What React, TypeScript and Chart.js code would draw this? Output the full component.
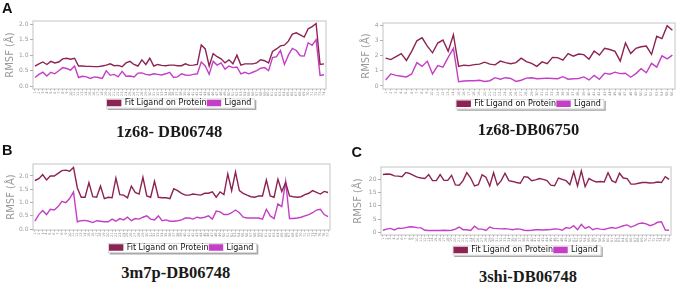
import React, { useEffect, useRef } from 'react';
import { Chart, registerables } from 'chart.js';

Chart.register(...registerables);

const DARK = '#8c2353';
const MAGENTA = '#c43fc6';
const SANS = 'DejaVu Sans';

const SERIES_FIT = 'Fit Ligand on Protein';
const SERIES_LIG = 'Ligand';
const Y_TITLE = 'RMSF (Å)';

const range = (n: number) => Array.from({ length: n }, (_, i) => String(i + 1));

// ---------- Panel A : 1z68- DB06748 ----------
const fitA = [
  0.65, 0.72, 0.78, 0.7, 0.8, 0.75, 0.78, 0.88, 0.9, 0.87,
  0.9, 0.65, 0.65, 0.64, 0.64, 0.63, 0.63, 0.65, 0.68, 0.72,
  0.66, 0.67, 0.63, 0.75, 0.8, 0.7, 0.65, 0.85, 0.7, 0.9,
  0.65, 0.7, 0.67, 0.66, 0.68, 0.68, 0.66, 0.66, 0.72, 0.67,
  0.68, 0.7, 1.33, 1.2, 0.65, 1.05, 0.95, 0.88, 0.75, 0.85,
  0.72, 1.0, 0.68, 0.72, 0.72, 0.72, 0.75, 0.85, 0.82, 0.75,
  1.12, 1.2, 1.3, 1.32, 1.45, 1.68, 1.72, 1.65, 1.58, 1.85,
  1.92, 2.02, 0.7, 0.72,
];
const ligA = [
  0.28, 0.38, 0.45, 0.33, 0.45, 0.4, 0.5, 0.6, 0.57, 0.52,
  0.65, 0.28, 0.32, 0.3, 0.25, 0.3, 0.28, 0.25, 0.5, 0.35,
  0.38, 0.3, 0.48, 0.32, 0.33, 0.3, 0.42, 0.43, 0.38, 0.36,
  0.4, 0.38, 0.36, 0.4, 0.45, 0.28, 0.3, 0.4, 0.36, 0.35,
  0.38, 0.4, 0.78, 0.65, 0.38, 0.8, 0.68, 0.75, 0.55, 0.65,
  0.6, 0.62, 0.4, 0.45, 0.4, 0.45, 0.5, 0.58, 0.6, 0.5,
  0.92, 0.95, 1.15, 0.7, 1.0, 1.22, 1.15, 0.98, 0.97, 1.4,
  1.32, 1.5, 0.35, 0.37,
];
const labelsA = range(fitA.length);
const yTicksA = [0, 0.5, 1.0, 1.5, 2.0];

// ---------- Panel : 1z68-DB06750 ----------
const fitD = [
  1.85, 1.75, 1.95, 2.15, 1.7, 2.3, 3.0, 3.2, 2.65, 2.2,
  2.85, 3.05, 2.3, 3.4, 1.3, 1.38, 1.35, 1.42, 1.45, 1.58,
  1.45, 1.4, 1.65, 1.55, 1.48, 1.55, 1.85, 1.62, 1.5, 1.3,
  1.6, 1.48, 1.9, 1.88, 1.72, 2.15, 1.98, 2.12, 2.08, 1.78,
  2.32, 2.05, 2.5, 2.42, 2.3, 1.65, 2.85, 2.15, 2.5, 2.6,
  2.65, 2.1, 3.3, 3.15, 4.0, 3.7,
];
const ligD = [
  0.4, 0.8, 0.7, 0.65, 0.6, 0.8, 1.55, 1.3, 1.65, 0.8,
  1.35, 1.25, 1.9, 2.5, 0.28, 0.33, 0.35, 0.35, 0.38, 0.3,
  0.35, 0.55, 0.45, 0.55, 0.5, 0.3, 0.38, 0.52, 0.55, 0.48,
  0.5, 0.52, 0.5, 0.48, 0.62, 0.45, 0.48, 0.5, 0.6, 0.4,
  0.7, 0.45, 0.85, 0.78, 0.92, 0.82, 0.85, 0.58, 0.82, 1.15,
  0.88, 1.5, 1.25, 2.0, 1.8, 2.05,
];
const labelsD = range(fitD.length);
const yTicksD = [0, 1, 2, 3, 4];

// ---------- Panel B : 3m7p-DB06748 ----------
const fitB = [
  1.83, 1.9, 2.05, 1.85, 2.0, 2.0, 2.1, 2.2, 2.22, 2.18,
  2.32, 1.55, 1.2, 1.2, 1.75, 1.22, 1.2, 1.62, 1.15, 1.2,
  1.18, 1.92, 1.3, 1.28, 1.18, 1.62, 1.38, 1.32, 1.95, 1.25,
  1.2, 1.8, 1.2, 1.18, 1.18, 1.15, 1.52, 1.45, 1.35, 1.28,
  1.28, 1.32, 1.3, 1.28, 1.35, 1.35, 1.4, 1.2, 1.4, 1.3,
  2.08, 1.45, 2.15, 1.45, 1.35, 1.28, 1.22, 1.2, 1.25, 1.25,
  1.85, 1.25, 1.2, 1.88, 1.42, 1.75, 1.25, 1.22, 1.2, 1.22,
  1.3, 1.35, 1.45, 1.38, 1.32, 1.42, 1.38,
];
const ligB = [
  0.3, 0.55, 0.7, 0.55, 0.75, 0.72, 0.85, 1.05, 1.0, 1.15,
  1.4, 0.28, 0.32, 0.33, 0.3, 0.25, 0.32, 0.3, 0.28, 0.28,
  0.38, 0.3, 0.4, 0.35, 0.45, 0.32, 0.4, 0.38, 0.45, 0.5,
  0.38, 0.35, 0.5, 0.32, 0.35, 0.3, 0.3, 0.32, 0.35, 0.42,
  0.42, 0.38, 0.45, 0.42, 0.45, 0.5, 0.38, 0.68, 0.65, 0.55,
  0.55, 0.62, 0.72, 0.62, 0.45, 0.42, 0.42, 0.42, 0.42, 0.38,
  0.75, 0.5, 0.4, 0.95, 0.85, 1.8, 0.4, 0.4, 0.42, 0.45,
  0.5, 0.55, 0.62, 0.72, 0.75, 0.55, 0.47,
];
const labelsB = range(fitB.length);
const yTicksB = [0, 0.5, 1.0, 1.5, 2.0];

// ---------- Panel C : 3shi-DB06748 ----------
const fitC = [
  21.8, 22, 21.9, 21.3, 21.2, 21.0, 22.6, 22.2, 21.5, 20.8,
  20.5, 20.3, 21.8, 19.5, 19.5, 21.8, 19.6, 19.6, 21.5, 17.9,
  17.8, 19.5, 22.5, 20.5, 17.5, 18, 21.7, 20.8, 17.5, 22.5,
  17.8, 19.5, 22.3, 19.5, 19.2, 18.8, 18.5, 21.0, 20.8, 19.5,
  19.8, 20.3, 20.0, 19.5, 17.8, 17.6, 20.5, 20.0, 19.5, 18.0,
  22.8, 17.5, 23.2, 17.2, 20.3, 19.5, 19.0, 19.2, 19.0, 22.5,
  19.5, 18.8, 22.3, 20.5, 20.3, 18.2, 18.2, 18.5, 18.8, 18.8,
  18.6, 18.7, 19.0, 18.8, 21.0, 20.0,
];
const ligC = [
  0.8, 1.2, 1.5, 0.9, 1.6, 1.5, 1.8, 2.1, 2.0, 1.8,
  1.7, 0.8, 0.7, 0.7, 0.7, 0.7, 0.8, 0.7, 0.8, 1.2,
  2.0, 1.0, 1.0, 0.7, 2.3, 1.2, 1.2, 0.7, 2.0, 1.5,
  1.4, 1.3, 1.4, 1.2, 1.0, 1.3, 1.2, 0.8, 0.7, 0.8,
  1.0, 1.0, 0.9, 1.0, 1.1, 1.3, 1.2, 0.8, 1.8, 1.5,
  2.5, 1.0, 3.0, 1.5, 2.2, 1.0, 1.5, 1.2, 1.1, 1.5,
  1.8, 1.5, 2.0, 2.5, 2.8, 2.0, 2.5, 3.3, 3.5, 3.2,
  2.5, 3.0, 3.8, 4.0, 0.9, 0.8,
];
const labelsC = range(fitC.length);
const yTicksC = [0, 5, 10, 15, 20];

type Frame = { L: number; T: number; R: number; B: number };
type PanelProps = {
  labels: string[];
  fit: number[];
  lig: number[];
  yTicks: number[];
  yMin: number;
  yMax: number;
  decimals: number;
  frame: Frame;
  titleX: number;
  boxTop: number;
};

const frameBox = {
  id: 'frameBox',
  beforeDraw(chart: any) {
    const { ctx, chartArea: a } = chart;
    const lg = chart.legend;
    ctx.save();
    if (lg && lg.legendHitBoxes && lg.legendHitBoxes.length) {
      const hb = lg.legendHitBoxes;
      const first = hb[0];
      const last = hb[hb.length - 1];
      const x0 = first.left - 1.5;
      const x1 = last.left + last.width + 3.5;
      const y0 = first.top - 0.5;
      const y1 = first.top + first.height + 1.5;
      ctx.fillStyle = '#a8a8a8';
      ctx.fillRect(x0 + 1.5, y0 + 1.5, x1 - x0, y1 - y0);
      ctx.fillStyle = '#ffffff';
      ctx.fillRect(x0, y0, x1 - x0, y1 - y0);
      ctx.strokeStyle = '#d0d0d0';
      ctx.lineWidth = 0.8;
      ctx.strokeRect(x0 + 0.4, y0 + 0.4, x1 - x0 - 0.8, y1 - y0 - 0.8);
    }
    ctx.strokeStyle = '#c4c4c4';
    ctx.lineWidth = 1;
    ctx.strokeRect(a.left, a.top, a.right - a.left, a.bottom - a.top);
    ctx.restore();
  },
};

function Panel(p: PanelProps) {
  const ref = useRef<HTMLCanvasElement>(null);
  const FONT = 8;
  const BOXH = 5;
  const LP = 1;
  const TITLE_FONT = 10;
  const titleHalf = (TITLE_FONT * 1.2) / 2;
  const cx = Math.floor(p.titleX - titleHalf - 3);
  const padLeft = p.titleX - titleHalf - cx;
  const yAxisW = p.frame.L - cx - padLeft;
  const cy = Math.floor(p.frame.T) - 6;
  const padTop = p.frame.T - cy;
  const legendTop = p.boxTop - (FONT - BOXH) / 2 - LP;
  const xAxisH = legendTop - p.frame.B;
  const LEGEND_H = 12;
  const bottomEdge = legendTop + LEGEND_H - cy;
  const H = Math.ceil(bottomEdge + 2);
  const padBottom = H - bottomEdge;
  const W = Math.ceil(p.frame.R - cx + 3);
  const padRight = W - (p.frame.R - cx);

  useEffect(() => {
    if (!ref.current) return;
    const chart = new Chart(ref.current, {
      type: 'line',
      data: {
        labels: p.labels,
        datasets: [
          {
            label: SERIES_FIT,
            data: p.fit,
            borderColor: DARK,
            backgroundColor: DARK,
            borderWidth: 1.4,
            pointRadius: 0,
            tension: 0,
          },
          {
            label: SERIES_LIG,
            data: p.lig,
            borderColor: MAGENTA,
            backgroundColor: MAGENTA,
            borderWidth: 1.4,
            pointRadius: 0,
            tension: 0,
          },
        ],
      },
      options: {
        responsive: false,
        animation: false,
        devicePixelRatio: 1,
        events: [],
        layout: { padding: { left: padLeft, top: padTop, right: padRight, bottom: padBottom } },
        plugins: {
          legend: {
            position: 'bottom',
            fullSize: false,
            maxHeight: LEGEND_H,
            labels: {
              boxWidth: 13,
              boxHeight: BOXH,
              padding: LP,
              color: '#111',
              font: { family: SANS, size: FONT },
            },
          },
          tooltip: { enabled: false },
          title: { display: false },
        },
        scales: {
          x: {
            type: 'category',
            offset: true,
            border: { display: false },
            grid: { drawOnChartArea: false, drawTicks: true, tickLength: 1.5, color: '#b0b0b0', offset: false },
            ticks: {
              autoSkip: false,
              minRotation: 90,
              maxRotation: 90,
              padding: 1,
              color: '#8a8a8a',
              font: { family: SANS, size: 3.5 },
            },
            afterFit: (s: any) => {
              s.height = xAxisH;
              s.paddingLeft = 0;
              s.paddingRight = 0;
            },
          },
          y: {
            type: 'linear',
            min: p.yMin,
            max: p.yMax,
            border: { display: false },
            grid: { drawOnChartArea: false, drawTicks: true, tickLength: 3, color: '#b0b0b0' },
            afterBuildTicks: (s: any) => {
              s.ticks = p.yTicks.map((v) => ({ value: v }));
            },
            ticks: {
              padding: 1.5,
              color: '#999999',
              font: { family: SANS, size: 6 },
              callback: (v: any) => Number(v).toFixed(p.decimals),
            },
            title: {
              display: true,
              text: Y_TITLE,
              color: '#999999',
              padding: 0,
              font: { family: SANS, size: TITLE_FONT },
            },
            afterFit: (s: any) => {
              s.width = yAxisW;
              s.paddingTop = 0;
              s.paddingBottom = 0;
            },
          },
        },
      } as any,
      plugins: [frameBox],
    });
    return () => chart.destroy();
  }, []);

  return (
    <canvas
      ref={ref}
      width={W}
      height={H}
      style={{ position: 'absolute', left: cx, top: cy, width: W, height: H }}
    />
  );
}

const titleStyle = (cx: number, top: number): React.CSSProperties => ({
  position: 'absolute',
  left: cx - 110,
  top,
  width: 220,
  textAlign: 'center',
  fontFamily: '"Liberation Serif", "Times New Roman", serif',
  fontWeight: 'bold',
  fontSize: 16.5,
  lineHeight: 1,
  color: '#1a1a1a',
  whiteSpace: 'nowrap',
});

const letterStyle = (x: number, top: number): React.CSSProperties => ({
  position: 'absolute',
  left: x,
  top,
  fontFamily: '"Liberation Sans", Arial, sans-serif',
  fontWeight: 'bold',
  fontSize: 14.5,
  lineHeight: 1,
  color: '#111',
});

export default function App() {
  return (
    <div
      style={{
        position: 'fixed',
        left: 0,
        top: 0,
        width: 679,
        height: 285,
        background: '#ffffff',
        overflow: 'hidden',
      }}
    >
      <Panel labels={labelsA} fit={fitA} lig={ligA} yTicks={yTicksA} yMin={-0.09} yMax={2.1} decimals={1}
        frame={{ L: 33, T: 21, R: 326, B: 89 }} titleX={10.8} boxTop={100.5} />
      <Panel labels={labelsD} fit={fitD} lig={ligD} yTicks={yTicksD} yMin={-0.2} yMax={4.18} decimals={0}
        frame={{ L: 383, T: 23, R: 675, B: 89 }} titleX={366.7} boxTop={101.3} />
      <Panel labels={labelsB} fit={fitB} lig={ligB} yTicks={yTicksB} yMin={-0.03} yMax={2.45} decimals={1}
        frame={{ L: 33, T: 164, R: 330, B: 230 }} titleX={11.7} boxTop={245} />
      <Panel labels={labelsC} fit={fitC} lig={ligC} yTicks={yTicksC} yMin={-1.0} yMax={24.65} decimals={0}
        frame={{ L: 381, T: 167, R: 671, B: 235 }} titleX={358.3} boxTop={247.5} />

      <div style={letterStyle(2, 0.7)}>A</div>
      <div style={letterStyle(2, 143)}>B</div>
      <div style={letterStyle(351.5, 144.7)}>C</div>

      <div style={titleStyle(169.3, 123.8)}>1z68- DB06748</div>
      <div style={titleStyle(528.5, 122)}>1z68-DB06750</div>
      <div style={titleStyle(175.8, 264.8)}>3m7p-DB06748</div>
      <div style={titleStyle(528, 268.8)}>3shi-DB06748</div>
    </div>
  );
}
